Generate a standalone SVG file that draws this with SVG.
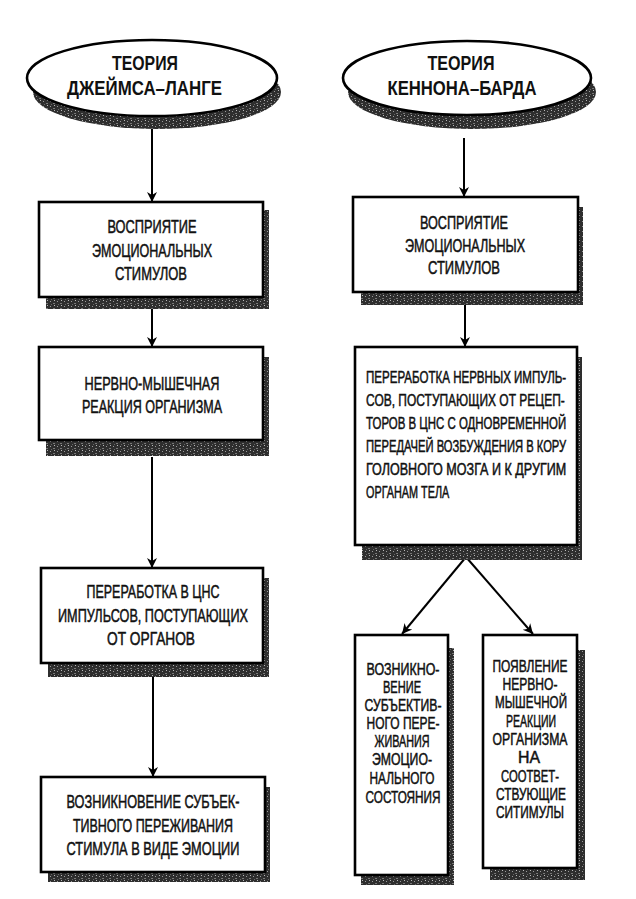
<svg xmlns="http://www.w3.org/2000/svg" width="636" height="899" viewBox="0 0 636 899">
<style>
.box{fill:#fff;stroke:#000;stroke-width:2.6}
.sh{fill:url(#grain)}
.t,.tl,.ts{font-family:"Liberation Sans",Arial,sans-serif;fill:#111;stroke:#111;stroke-width:0.5}
.t{font-size:17.5px;text-anchor:middle}
.tl{font-size:16px;text-anchor:start}
.ts{font-size:16.5px;text-anchor:middle}
.title{font-family:"Liberation Sans",Arial,sans-serif;font-size:21px;font-weight:bold;fill:#111;text-anchor:middle}
.con{stroke:#000;stroke-width:2;fill:none;marker-end:url(#arr)}
</style>
<defs>
<pattern id="grain" width="7" height="5" patternUnits="userSpaceOnUse">
<rect width="7" height="5" fill="#2e2e2e"/>
<rect x="1" y="1" width="1" height="1" fill="#9a9a9a"/>
<rect x="4" y="3" width="2" height="1" fill="#777"/>
<rect x="5" y="0" width="1" height="1" fill="#bbb"/>
<rect x="2" y="4" width="1" height="1" fill="#666"/>
</pattern>
<marker id="arr" viewBox="0 0 10 14" refX="10" refY="7" markerWidth="10" markerHeight="14" markerUnits="userSpaceOnUse" orient="auto">
<path d="M0,2 L10,7 L0,12 L3,7 Z" fill="#000"/>
</marker>
</defs>

<g id="connectors">
<line class="con" x1="152" y1="128" x2="152" y2="202"/>
<line class="con" x1="152" y1="309" x2="152" y2="347"/>
<line class="con" x1="152" y1="457" x2="152" y2="568"/>
<line class="con" x1="153" y1="677" x2="153" y2="777"/>
<line class="con" x1="464" y1="138" x2="464" y2="197"/>
<line class="con" x1="465" y1="305" x2="465" y2="347"/>
<line class="con" x1="466" y1="557" x2="402" y2="634"/>
<line class="con" x1="466" y1="557" x2="533" y2="634"/>
</g>

<g id="title-left">
<ellipse class="sh" cx="157" cy="92" rx="124" ry="37"/>
<ellipse class="box" cx="152" cy="78" rx="125" ry="38"/>
<text class="title" x="145" y="70" textLength="66" lengthAdjust="spacingAndGlyphs">ТЕОРИЯ</text>
<text class="title" x="144.5" y="95" textLength="155" lengthAdjust="spacingAndGlyphs">ДЖЕЙМСА–ЛАНГЕ</text>
</g>

<g id="title-right">
<ellipse class="sh" cx="472" cy="92" rx="124" ry="37"/>
<ellipse class="box" cx="467" cy="78" rx="124" ry="37"/>
<text class="title" x="461" y="70" textLength="67" lengthAdjust="spacingAndGlyphs">ТЕОРИЯ</text>
<text class="title" x="462" y="95" textLength="149" lengthAdjust="spacingAndGlyphs">КЕННОНА–БАРДА</text>
</g>

<g id="l1">
<rect class="sh" x="46" y="210" width="223" height="99"/>
<rect class="box" x="39" y="202" width="224" height="95"/>
<text class="t" x="152" y="233" textLength="89" lengthAdjust="spacingAndGlyphs">ВОСПРИЯТИЕ</text>
<text class="t" x="152" y="257" textLength="120" lengthAdjust="spacingAndGlyphs">ЭМОЦИОНАЛЬНЫХ</text>
<text class="t" x="151" y="280" textLength="72" lengthAdjust="spacingAndGlyphs">СТИМУЛОВ</text>
</g>

<g id="l2">
<rect class="sh" x="46" y="357" width="223" height="99"/>
<rect class="box" x="39" y="347" width="224" height="93"/>
<text class="t" x="152" y="390" textLength="135" lengthAdjust="spacingAndGlyphs">НЕРВНО-МЫШЕЧНАЯ</text>
<text class="t" x="152" y="413" textLength="140" lengthAdjust="spacingAndGlyphs">РЕАКЦИЯ ОРГАНИЗМА</text>
</g>

<g id="l3">
<rect class="sh" x="48" y="578" width="221" height="99"/>
<rect class="box" x="41" y="568" width="222" height="95"/>
<text class="t" x="153" y="598" textLength="133" lengthAdjust="spacingAndGlyphs">ПЕРЕРАБОТКА В ЦНС</text>
<text class="t" x="153" y="622" textLength="190" lengthAdjust="spacingAndGlyphs">ИМПУЛЬСОВ, ПОСТУПАЮЩИХ</text>
<text class="t" x="151" y="645" textLength="88" lengthAdjust="spacingAndGlyphs">ОТ ОРГАНОВ</text>
</g>

<g id="l4">
<rect class="sh" x="48" y="787" width="222" height="95"/>
<rect class="box" x="41" y="777" width="224" height="95"/>
<text class="t" x="153" y="808" textLength="173" lengthAdjust="spacingAndGlyphs">ВОЗНИКНОВЕНИЕ СУБЪЕК-</text>
<text class="t" x="153" y="832" textLength="160" lengthAdjust="spacingAndGlyphs">ТИВНОГО ПЕРЕЖИВАНИЯ</text>
<text class="t" x="153" y="855" textLength="173" lengthAdjust="spacingAndGlyphs">СТИМУЛА В ВИДЕ ЭМОЦИИ</text>
</g>

<g id="r1">
<rect class="sh" x="361" y="207" width="222" height="98"/>
<rect class="box" x="353" y="197" width="225" height="95"/>
<text class="t" x="464" y="229" textLength="88" lengthAdjust="spacingAndGlyphs">ВОСПРИЯТИЕ</text>
<text class="t" x="465" y="252" textLength="120" lengthAdjust="spacingAndGlyphs">ЭМОЦИОНАЛЬНЫХ</text>
<text class="t" x="464" y="274" textLength="72" lengthAdjust="spacingAndGlyphs">СТИМУЛОВ</text>
</g>

<g id="r2">
<rect class="sh" x="362" y="357" width="220" height="203"/>
<rect class="box" x="355" y="347" width="222" height="198"/>
<text class="tl" transform="translate(366,383) scale(0.7,1)" textLength="286" lengthAdjust="spacingAndGlyphs">ПЕРЕРАБОТКА НЕРВНЫХ ИМПУЛЬ-</text>
<text class="tl" transform="translate(366,406) scale(0.7,1)" textLength="284" lengthAdjust="spacingAndGlyphs">СОВ, ПОСТУПАЮЩИХ ОТ РЕЦЕП-</text>
<text class="tl" transform="translate(366,429) scale(0.7,1)" textLength="286" lengthAdjust="spacingAndGlyphs">ТОРОВ В ЦНС С ОДНОВРЕМЕННОЙ</text>
<text class="tl" transform="translate(366,452) scale(0.7,1)" textLength="286" lengthAdjust="spacingAndGlyphs">ПЕРЕДАЧЕЙ ВОЗБУЖДЕНИЯ В КОРУ</text>
<text class="tl" transform="translate(366,475) scale(0.7,1)" textLength="286" lengthAdjust="spacingAndGlyphs">ГОЛОВНОГО МОЗГА И К ДРУГИМ</text>
<text class="tl" transform="translate(366,498) scale(0.7,1)" textLength="119" lengthAdjust="spacingAndGlyphs">ОРГАНАМ ТЕЛА</text>
</g>

<g id="r3">
<rect class="sh" x="361" y="648" width="93" height="237"/>
<rect class="box" x="355" y="635" width="93" height="240"/>
<text class="ts" x="403" y="675" textLength="73" lengthAdjust="spacingAndGlyphs">ВОЗНИКНО-</text>
<text class="ts" x="402" y="693" textLength="38" lengthAdjust="spacingAndGlyphs">ВЕНИЕ</text>
<text class="ts" x="403" y="711" textLength="77" lengthAdjust="spacingAndGlyphs">СУБЪЕКТИВ-</text>
<text class="ts" x="403" y="729" textLength="73" lengthAdjust="spacingAndGlyphs">НОГО ПЕРЕ-</text>
<text class="ts" x="402" y="747" textLength="55" lengthAdjust="spacingAndGlyphs">ЖИВАНИЯ</text>
<text class="ts" x="402" y="765" textLength="60" lengthAdjust="spacingAndGlyphs">ЭМОЦИО-</text>
<text class="ts" x="402" y="784" textLength="65" lengthAdjust="spacingAndGlyphs">НАЛЬНОГО</text>
<text class="ts" x="403" y="803" textLength="75" lengthAdjust="spacingAndGlyphs">СОСТОЯНИЯ</text>
</g>

<g id="r4">
<rect class="sh" x="490" y="650" width="95" height="230"/>
<rect class="box" x="483" y="635" width="94" height="233"/>
<text class="ts" x="530" y="672" textLength="75" lengthAdjust="spacingAndGlyphs">ПОЯВЛЕНИЕ</text>
<text class="ts" x="530" y="690" textLength="55" lengthAdjust="spacingAndGlyphs">НЕРВНО-</text>
<text class="ts" x="531" y="708" textLength="72" lengthAdjust="spacingAndGlyphs">МЫШЕЧНОЙ</text>
<text class="ts" x="531" y="727" textLength="50" lengthAdjust="spacingAndGlyphs">РЕАКЦИИ</text>
<text class="ts" x="530" y="745" textLength="75" lengthAdjust="spacingAndGlyphs">ОРГАНИЗМА</text>
<text class="ts" x="529" y="763" textLength="22" lengthAdjust="spacingAndGlyphs">НА</text>
<text class="ts" x="530" y="782" textLength="58" lengthAdjust="spacingAndGlyphs">СООТВЕТ-</text>
<text class="ts" x="531" y="800" textLength="70" lengthAdjust="spacingAndGlyphs">СТВУЮЩИЕ</text>
<text class="ts" x="530" y="818" textLength="68" lengthAdjust="spacingAndGlyphs">СИТИМУЛЫ</text>
</g>
</svg>
